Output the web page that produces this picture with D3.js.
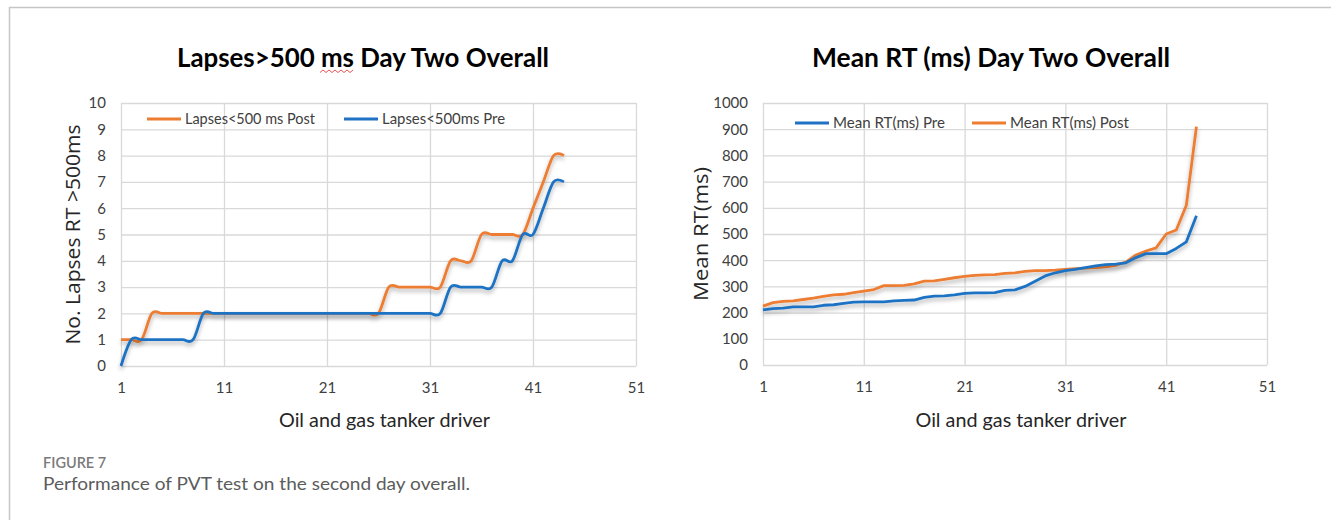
<!DOCTYPE html>
<html>
<head>
<meta charset="utf-8">
<script src="https://cdn.jsdelivr.net/npm/d3@7"></script>
<style>
body{margin:0;background:#fff;}
svg{display:block;font-family:Lato, "Open Sans", sans-serif;}
</style>
</head>
<body>
<script>
var W = 1331, H = 520;

//driver numbers on the x axis (1..44)
var drivers = [1,2,3,4,5,6,7,8,9,10,11,12,13,14,15,16,17,18,19,20,21,22,
               23,24,25,26,27,28,29,30,31,32,33,34,35,36,37,38,39,40,41,42,43,44];

//lapses > 500 ms, day two
var lapsesPost = [1,1,1,2,2,2,2,2,2,2,2,2,2,2,2,2,2,2,2,2,2,2,2,2,2,2,
                  3,3,3,3,3,3,4,4,4,5,5,5,5,5,6,7,8,8];
var lapsesPre  = [0,1,1,1,1,1,1,1,2,2,2,2,2,2,2,2,2,2,2,2,2,2,2,2,2,2,
                  2,2,2,2,2,2,3,3,3,3,3,4,4,5,5,6,7,7];

//mean RT (ms), day two
var rtPre  = [210,215,217,222,222,222,228,230,235,240,241,241,241,245,247,248,258,263,264,268,273,275,
              275,276,285,287,300,320,340,352,360,365,372,378,383,385,390,410,425,425,425,445,470,570];
var rtPost = [225,238,243,245,250,255,262,268,270,276,282,288,303,303,304,310,320,321,327,333,338,342,
              344,345,350,352,357,360,360,362,365,368,370,372,375,380,393,420,435,447,500,515,610,910];

var xTicks = [1, 11, 21, 31, 41, 51];
var lapsesTicks = [0,1,2,3,4,5,6,7,8,9,10];
var rtTicks = [0,100,200,300,400,500,600,700,800,900,1000];

var orange = "#ed7d31", blue = "#1f72c3";

var svg = d3.select("body").append("svg")
            .attr("width", W)
            .attr("height", H);

//soft shadow under the lines, like the excel export
svg.append("defs").append("filter")
   .attr("id", "shadow")
   .attr("filterUnits", "userSpaceOnUse")
   .attr("x", 0).attr("y", 0).attr("width", W).attr("height", H)
   .append("feDropShadow")
   .attr("dx", 0).attr("dy", 3)
   .attr("stdDeviation", 2)
   .attr("flood-color", "#000")
   .attr("flood-opacity", 0.3);

//frame of the figure box
svg.append("path")
   .attr("d", "M9.5," + H + "V7.5H" + W)
   .attr("fill", "none")
   .attr("stroke", "#c6c6c6")
   .attr("stroke-width", 1.5);

drawChart({
    x0: 121, x1: 636, y0: 366, y1: 103,
    yMax: 10, yTicks: lapsesTicks,
    title: "Lapses>500 ms Day Two Overall", titleX: 363, titleLen: 372,
    yLabel: "No. Lapses RT >500ms", yLabelX: 80, yLabelLen: 220,
    curve: d3.curveCatmullRom.alpha(0),
    series: [
        {name: "Lapses<500 ms Post", values: lapsesPost, color: orange, lx: 147, ly: 119, tl: 130},
        {name: "Lapses<500ms Pre", values: lapsesPre, color: blue, lx: 344, ly: 119, tl: 123}
    ]
});

drawChart({
    x0: 763, x1: 1267, y0: 365, y1: 103,
    yMax: 1000, yTicks: rtTicks,
    title: "Mean RT (ms) Day Two Overall", titleX: 991, titleLen: 358,
    yLabel: "Mean RT(ms)", yLabelX: 708, yLabelLen: 134,
    curve: d3.curveLinear,
    series: [
        {name: "Mean RT(ms) Post", values: rtPost, color: orange, lx: 972, ly: 123, tl: 119},
        {name: "Mean RT(ms) Pre", values: rtPre, color: blue, lx: 795, ly: 123, tl: 112}
    ]
});

//caption under the figure
svg.append("text")
   .attr("x", 43).attr("y", 468)
   .attr("font-size", 14.5)
   .attr("font-weight", 600)
   .attr("fill", "#7b7b7b")
   .text("FIGURE 7");

svg.append("text")
   .attr("x", 43).attr("y", 490)
   .attr("font-size", 17.5)
   .attr("fill", "#5c5c5c")
   .attr("textLength", 427)
   .attr("lengthAdjust", "spacingAndGlyphs")
   .text("Performance of PVT test on the second day overall.");

function drawChart(c){
    var xScale = d3.scaleLinear().domain([1, 51]).range([c.x0, c.x1]);
    var yScale = d3.scaleLinear().domain([0, c.yMax]).range([c.y0, c.y1]);
    var g = svg.append("g");

    //horizontal gridlines + y tick labels
    var yAxis = g.append("g")
                 .attr("transform", "translate(" + c.x0 + ",0)")
                 .call(d3.axisLeft(yScale).tickValues(c.yTicks)
                         .tickSize(-(c.x1 - c.x0)).tickPadding(15)
                         .tickFormat(d3.format("d")));
    //vertical gridlines + x tick labels
    var xAxis = g.append("g")
                 .attr("transform", "translate(0," + c.y0 + ")")
                 .call(d3.axisBottom(xScale).tickValues(xTicks)
                         .tickSize(-(c.y0 - c.y1)).tickPadding(16)
                         .tickFormat(d3.format("d")));

    [xAxis, yAxis].forEach(function(a){
        a.select(".domain").remove();
        a.selectAll("line").attr("stroke", "#d9d9d9").attr("stroke-width", 1.3);
        a.selectAll("text").attr("font-family", "Lato, sans-serif")
         .attr("font-size", 15).attr("fill", "#404040");
    });

    //title
    g.append("text")
     .attr("x", c.titleX).attr("y", 67)
     .attr("text-anchor", "middle")
     .attr("font-size", 26).attr("font-weight", 700)
     .attr("fill", "#000")
     .attr("textLength", c.titleLen)
     .attr("lengthAdjust", "spacingAndGlyphs")
     .text(c.title);

    //axis titles
    g.append("text")
     .attr("transform", "translate(" + c.yLabelX + "," + ((c.y0 + c.y1) / 2) + ") rotate(-90)")
     .attr("text-anchor", "middle")
     .attr("font-family", "'Open Sans', sans-serif")
     .attr("font-size", 19.5).attr("fill", "#262626")
     .attr("textLength", c.yLabelLen)
     .attr("lengthAdjust", "spacingAndGlyphs")
     .text(c.yLabel);

    g.append("text")
     .attr("x", (c.x0 + c.x1) / 2 + 6).attr("y", 427)
     .attr("text-anchor", "middle")
     .attr("font-size", 20).attr("fill", "#262626")
     .attr("textLength", 211)
     .attr("lengthAdjust", "spacingAndGlyphs")
     .text("Oil and gas tanker driver");

    //lines
    var line = d3.line()
                 .curve(c.curve)
                 .x(function(d, i){ return xScale(drivers[i]); })
                 .y(function(d){ return yScale(d); });

    g.selectAll(".series")
     .data(c.series)
     .enter()
     .append("path")
     .attr("class", "series")
     .attr("d", function(s){ return line(s.values); })
     .attr("fill", "none")
     .attr("stroke", function(s){ return s.color; })
     .attr("stroke-width", 2.8)
     .attr("stroke-linejoin", "round")
     .attr("filter", "url(#shadow)");

    //legend
    var leg = g.selectAll(".legend")
               .data(c.series)
               .enter()
               .append("g")
               .attr("class", "legend")
               .attr("transform", function(s){ return "translate(" + s.lx + "," + s.ly + ")"; });
    leg.append("line")
       .attr("x1", 0).attr("x2", 34)
       .attr("stroke", function(s){ return s.color; })
       .attr("stroke-width", 2.8);
    leg.append("text")
       .attr("x", 38).attr("y", 5)
       .attr("font-size", 15).attr("fill", "#404040")
       .attr("textLength", function(s){ return s.tl; })
       .attr("lengthAdjust", "spacingAndGlyphs")
       .text(function(s){ return s.name; });
}

//red spell-check squiggle under "ms" in the left title
var squiggle = d3.range(0, 12).map(function(i){ return [320 + i * 3, i % 2 ? 70 : 72.5]; });
svg.append("path")
   .attr("d", d3.line()(squiggle))
   .attr("fill", "none")
   .attr("stroke", "#e04040")
   .attr("stroke-width", 0.9);
</script>
</body>
</html>
